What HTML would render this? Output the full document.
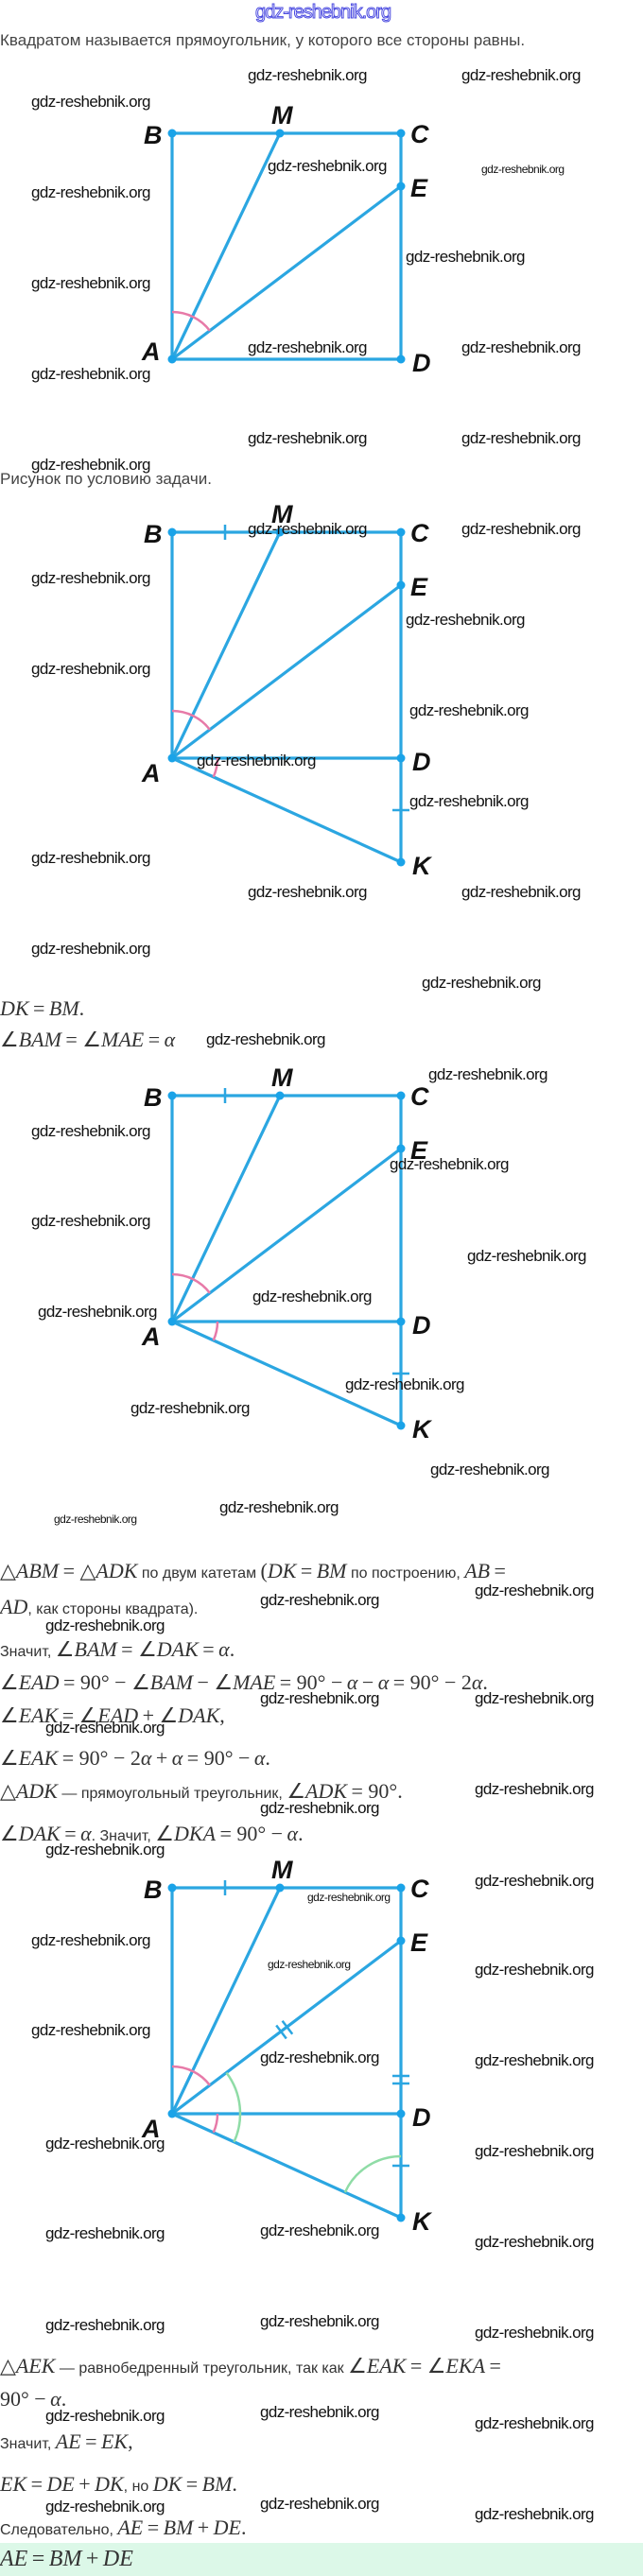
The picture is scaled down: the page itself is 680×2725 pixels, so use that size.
<!DOCTYPE html>
<html><head><meta charset="utf-8">
<style>
body{margin:0;width:680px;height:2725px;position:relative;background:#fff;overflow:hidden;font-family:"Liberation Sans",sans-serif}
.w{position:absolute;font:17px/20px "Liberation Sans",sans-serif;color:#111;white-space:nowrap;letter-spacing:-0.6px}
.ws{position:absolute;font:12px/14px "Liberation Sans",sans-serif;color:#111;white-space:nowrap;letter-spacing:-0.5px}
.t{position:absolute;left:0;white-space:nowrap;color:#333;font-size:16px;line-height:24px}
.m{font-family:"Liberation Serif",serif;font-style:italic;font-size:22px;color:#333}
.n{font-family:"Liberation Serif",serif;font-size:22px;color:#333}
svg{position:absolute;left:0;top:0}
</style></head><body>
<svg width="680" height="2725" viewBox="0 0 680 2725">
<defs>
<g id="base" fill="none" stroke="#2ba6e1" stroke-width="3.2">
<path d="M182,0H424V239H182Z"/>
<path d="M182,239L296,0M182,239L424,56"/>
<path d="M182,189A50,50 0 0 1 221.9,208.85" stroke="#e77aa8" stroke-width="2.5"/>
</g>
<g id="kpart" fill="none" stroke="#2ba6e1" stroke-width="3.2">
<path d="M424,239V349L182,239"/>
<path d="M230,239A48,48 0 0 1 225.7,258.9" stroke="#e77aa8" stroke-width="2.5"/>
<path d="M238,-8V8M415,294H433" stroke-width="2.5"/>
</g>
<g id="dots" fill="#1aa3e8">
<circle cx="182" cy="0" r="4.5"/><circle cx="296" cy="0" r="4.5"/><circle cx="424" cy="0" r="4.5"/>
<circle cx="424" cy="56" r="4.5"/><circle cx="424" cy="239" r="4.5"/><circle cx="182" cy="239" r="4.5"/>
</g>
<g id="lbl" font-family="Liberation Sans,sans-serif" font-weight="bold" font-style="italic" font-size="27" fill="#111">
<text x="152" y="11">B</text><text x="287" y="-10">M</text><text x="434" y="10">C</text><text x="434" y="67">E</text><text x="436" y="252">D</text>
</g>
</defs>

<!-- fig1 -->
<g transform="translate(0,141)">
<use href="#base"/><use href="#dots"/><use href="#lbl"/>
<text x="150" y="240" font-family="Liberation Sans,sans-serif" font-weight="bold" font-style="italic" font-size="27" fill="#111">A</text>
</g>
<!-- fig2 -->
<g transform="translate(0,563)">
<use href="#base"/><use href="#kpart"/><use href="#dots"/><circle cx="424" cy="349" r="4.5" fill="#1aa3e8"/><use href="#lbl"/>
<text x="150" y="264" font-family="Liberation Sans,sans-serif" font-weight="bold" font-style="italic" font-size="27" fill="#111">A</text>
<text x="436" y="362" font-family="Liberation Sans,sans-serif" font-weight="bold" font-style="italic" font-size="27" fill="#111">K</text>
</g>
<!-- fig3 -->
<g transform="translate(0,1159)">
<use href="#base"/><use href="#kpart"/><use href="#dots"/><circle cx="424" cy="349" r="4.5" fill="#1aa3e8"/><use href="#lbl"/>
<text x="150" y="264" font-family="Liberation Sans,sans-serif" font-weight="bold" font-style="italic" font-size="27" fill="#111">A</text>
<text x="436" y="362" font-family="Liberation Sans,sans-serif" font-weight="bold" font-style="italic" font-size="27" fill="#111">K</text>
</g>
<!-- fig4 -->
<g transform="translate(0,1997)">
<use href="#base"/><use href="#kpart"/>
<g fill="none" stroke-width="2.5">
<path d="M239.5,195.6A72,72 0 0 1 247.5,268.8" stroke="#8fdca6"/>
<path d="M424,284A65,65 0 0 0 364.9,322.1" stroke="#8fdca6"/>
<path d="M415,199H433M415,207H433" stroke="#2ba6e1"/>
<path d="M292.2,145.5L302.8,159.5M298.6,140.7L309.2,154.7" stroke="#2ba6e1"/>
</g>
<use href="#dots"/><circle cx="424" cy="349" r="4.5" fill="#1aa3e8"/><use href="#lbl"/>
<text x="150" y="264" font-family="Liberation Sans,sans-serif" font-weight="bold" font-style="italic" font-size="27" fill="#111">A</text>
<text x="436" y="362" font-family="Liberation Sans,sans-serif" font-weight="bold" font-style="italic" font-size="27" fill="#111">K</text>
</g>
<rect x="0" y="2690" width="680" height="35" fill="#dcf8e8"/>
</svg>

<div style="position:absolute;left:270px;top:2px;font:20px 'Liberation Sans',sans-serif;color:#fff;-webkit-text-stroke:1px #4a4ae0;letter-spacing:-1px">gdz-reshebnik.org</div>
<div class="t" style="top:31px;font-size:17px;color:#444">Квадратом называется прямоугольник, у которого все стороны равны.</div>

<!-- fig1 wm -->
<div class="w" style="left:262px;top:70px">gdz-reshebnik.org</div>
<div class="w" style="left:488px;top:70px">gdz-reshebnik.org</div>
<div class="w" style="left:33px;top:98px">gdz-reshebnik.org</div>
<div class="w" style="left:283px;top:166px">gdz-reshebnik.org</div>
<div class="ws" style="left:509px;top:172px">gdz-reshebnik.org</div>
<div class="w" style="left:33px;top:194px">gdz-reshebnik.org</div>
<div class="w" style="left:429px;top:262px">gdz-reshebnik.org</div>
<div class="w" style="left:33px;top:290px">gdz-reshebnik.org</div>
<div class="w" style="left:262px;top:358px">gdz-reshebnik.org</div>
<div class="w" style="left:488px;top:358px">gdz-reshebnik.org</div>
<div class="w" style="left:33px;top:386px">gdz-reshebnik.org</div>

<!-- fig2 -->
<div class="w" style="left:262px;top:454px">gdz-reshebnik.org</div>
<div class="w" style="left:488px;top:454px">gdz-reshebnik.org</div>
<div class="w" style="left:33px;top:482px">gdz-reshebnik.org</div>
<div class="t" style="top:495px;font-size:17px;color:#444">Рисунок по условию задачи.</div>
<div class="w" style="left:262px;top:550px">gdz-reshebnik.org</div>
<div class="w" style="left:488px;top:550px">gdz-reshebnik.org</div>
<div class="w" style="left:33px;top:602px">gdz-reshebnik.org</div>
<div class="w" style="left:429px;top:646px">gdz-reshebnik.org</div>
<div class="w" style="left:33px;top:698px">gdz-reshebnik.org</div>
<div class="w" style="left:433px;top:742px">gdz-reshebnik.org</div>
<div class="w" style="left:208px;top:795px">gdz-reshebnik.org</div>
<div class="w" style="left:433px;top:838px">gdz-reshebnik.org</div>
<div class="w" style="left:33px;top:898px">gdz-reshebnik.org</div>
<div class="w" style="left:262px;top:934px">gdz-reshebnik.org</div>
<div class="w" style="left:488px;top:934px">gdz-reshebnik.org</div>
<div class="w" style="left:33px;top:994px">gdz-reshebnik.org</div>
<div class="w" style="left:446px;top:1030px">gdz-reshebnik.org</div>

<!-- fig3 -->
<div class="t" style="top:1055px"><span class="m">DK</span> <span class="n">=</span> <span class="m">BM</span><span class="n">.</span></div>
<div class="t" style="top:1088px"><span class="n">∠</span><span class="m">BAM</span> <span class="n">= ∠</span><span class="m">MAE</span> <span class="n">=</span> <span class="m">α</span></div>
<div class="w" style="left:218px;top:1090px">gdz-reshebnik.org</div>
<div class="w" style="left:453px;top:1127px">gdz-reshebnik.org</div>
<div class="w" style="left:33px;top:1187px">gdz-reshebnik.org</div>
<div class="w" style="left:412px;top:1222px">gdz-reshebnik.org</div>
<div class="w" style="left:33px;top:1282px">gdz-reshebnik.org</div>
<div class="w" style="left:494px;top:1319px">gdz-reshebnik.org</div>
<div class="w" style="left:267px;top:1362px">gdz-reshebnik.org</div>
<div class="w" style="left:40px;top:1378px">gdz-reshebnik.org</div>
<div class="w" style="left:365px;top:1455px">gdz-reshebnik.org</div>
<div class="w" style="left:138px;top:1480px">gdz-reshebnik.org</div>
<div class="w" style="left:455px;top:1545px">gdz-reshebnik.org</div>
<div class="w" style="left:232px;top:1585px">gdz-reshebnik.org</div>
<div class="ws" style="left:57px;top:1600px">gdz-reshebnik.org</div>

<!-- text block -->
<div class="t" style="top:1650px"><span class="n">△</span><span class="m">ABM</span> <span class="n">= △</span><span class="m">ADK</span> по двум катетам <span class="n">(</span><span class="m">DK</span> <span class="n">=</span> <span class="m">BM</span> по построению, <span class="m">AB</span> <span class="n">=</span></div>
<div class="w" style="left:502px;top:1673px">gdz-reshebnik.org</div>
<div class="t" style="top:1688px"><span class="m">AD</span>, как стороны квадрата).</div>
<div class="w" style="left:275px;top:1683px">gdz-reshebnik.org</div>
<div class="w" style="left:48px;top:1710px">gdz-reshebnik.org</div>
<div class="t" style="top:1733px">Значит, <span class="n">∠</span><span class="m">BAM</span> <span class="n">= ∠</span><span class="m">DAK</span> <span class="n">=</span> <span class="m">α</span><span class="n">.</span></div>
<div class="t" style="top:1768px"><span class="n">∠</span><span class="m">EAD</span> <span class="n">= 90° − ∠</span><span class="m">BAM</span> <span class="n">− ∠</span><span class="m">MAE</span> <span class="n">= 90° −</span> <span class="m">α</span> <span class="n">−</span> <span class="m">α</span> <span class="n">= 90° − 2</span><span class="m">α</span><span class="n">.</span></div>
<div class="w" style="left:275px;top:1787px">gdz-reshebnik.org</div>
<div class="w" style="left:502px;top:1787px">gdz-reshebnik.org</div>
<div class="t" style="top:1803px"><span class="n">∠</span><span class="m">EAK</span> <span class="n">= ∠</span><span class="m">EAD</span> <span class="n">+ ∠</span><span class="m">DAK</span><span class="n">,</span></div>
<div class="w" style="left:48px;top:1818px">gdz-reshebnik.org</div>
<div class="t" style="top:1848px"><span class="n">∠</span><span class="m">EAK</span> <span class="n">= 90° − 2</span><span class="m">α</span> <span class="n">+</span> <span class="m">α</span> <span class="n">= 90° −</span> <span class="m">α</span><span class="n">.</span></div>
<div class="t" style="top:1883px"><span class="n">△</span><span class="m">ADK</span> — прямоугольный треугольник, <span class="n">∠</span><span class="m">ADK</span> <span class="n">= 90°.</span></div>
<div class="w" style="left:502px;top:1883px">gdz-reshebnik.org</div>
<div class="w" style="left:275px;top:1903px">gdz-reshebnik.org</div>
<div class="t" style="top:1928px"><span class="n">∠</span><span class="m">DAK</span> <span class="n">=</span> <span class="m">α</span>. Значит, <span class="n">∠</span><span class="m">DKA</span> <span class="n">= 90° −</span> <span class="m">α</span><span class="n">.</span></div>
<div class="w" style="left:48px;top:1947px">gdz-reshebnik.org</div>

<!-- fig4 -->
<div class="w" style="left:502px;top:1980px">gdz-reshebnik.org</div>
<div class="ws" style="left:325px;top:2000px">gdz-reshebnik.org</div>
<div class="w" style="left:33px;top:2043px">gdz-reshebnik.org</div>
<div class="ws" style="left:283px;top:2071px">gdz-reshebnik.org</div>
<div class="w" style="left:502px;top:2074px">gdz-reshebnik.org</div>
<div class="w" style="left:33px;top:2138px">gdz-reshebnik.org</div>
<div class="w" style="left:275px;top:2167px">gdz-reshebnik.org</div>
<div class="w" style="left:502px;top:2170px">gdz-reshebnik.org</div>
<div class="w" style="left:48px;top:2258px">gdz-reshebnik.org</div>
<div class="w" style="left:502px;top:2266px">gdz-reshebnik.org</div>
<div class="w" style="left:48px;top:2353px">gdz-reshebnik.org</div>
<div class="w" style="left:275px;top:2350px">gdz-reshebnik.org</div>
<div class="w" style="left:502px;top:2362px">gdz-reshebnik.org</div>

<div class="w" style="left:48px;top:2450px">gdz-reshebnik.org</div>
<div class="w" style="left:275px;top:2446px">gdz-reshebnik.org</div>
<div class="w" style="left:502px;top:2458px">gdz-reshebnik.org</div>
<div class="t" style="top:2491px"><span class="n">△</span><span class="m">AEK</span> — равнобедренный треугольник, так как <span class="n">∠</span><span class="m">EAK</span> <span class="n">= ∠</span><span class="m">EKA</span> <span class="n">=</span></div>
<div class="t" style="top:2526px"><span class="n">90° −</span> <span class="m">α</span><span class="n">.</span></div>
<div class="w" style="left:48px;top:2546px">gdz-reshebnik.org</div>
<div class="w" style="left:275px;top:2542px">gdz-reshebnik.org</div>
<div class="w" style="left:502px;top:2554px">gdz-reshebnik.org</div>
<div class="t" style="top:2571px">Значит, <span class="m">AE</span> <span class="n">=</span> <span class="m">EK</span><span class="n">,</span></div>
<div class="t" style="top:2616px"><span class="m">EK</span> <span class="n">=</span> <span class="m">DE</span> <span class="n">+</span> <span class="m">DK</span>, но <span class="m">DK</span> <span class="n">=</span> <span class="m">BM</span><span class="n">.</span></div>
<div class="w" style="left:48px;top:2642px">gdz-reshebnik.org</div>
<div class="w" style="left:275px;top:2639px">gdz-reshebnik.org</div>
<div class="w" style="left:502px;top:2650px">gdz-reshebnik.org</div>
<div class="t" style="top:2662px">Следовательно, <span class="m">AE</span> <span class="n">=</span> <span class="m">BM</span> <span class="n">+</span> <span class="m">DE</span><span class="n">.</span></div>
<div class="t" style="top:2695px"><span class="m" style="font-size:24px">AE</span> <span class="n" style="font-size:24px">=</span> <span class="m" style="font-size:24px">BM</span> <span class="n" style="font-size:24px">+</span> <span class="m" style="font-size:24px">DE</span></div>
</body></html>
